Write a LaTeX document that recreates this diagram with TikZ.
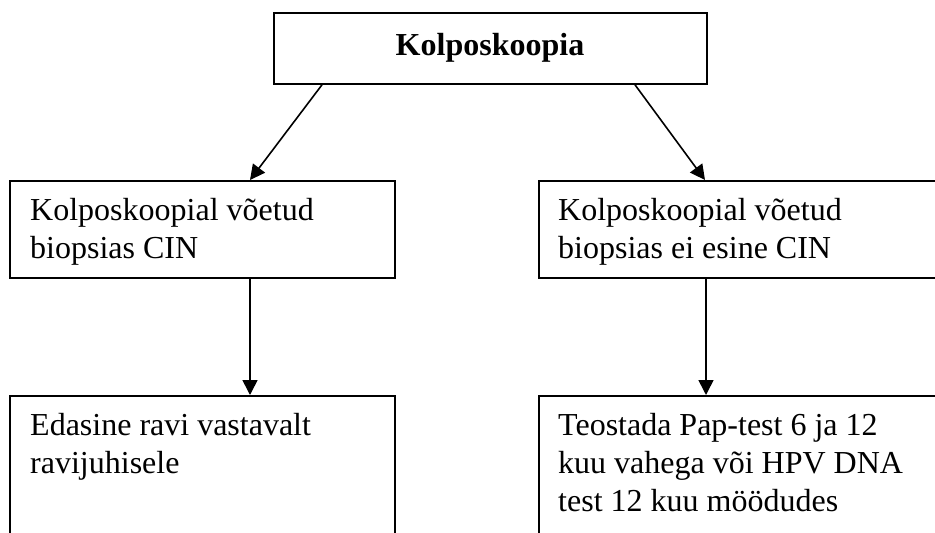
\documentclass[tikz,border=0pt]{standalone}
\usepackage{fontspec}
\setmainfont{Liberation Serif}
\usetikzlibrary{arrows.meta}
\begin{document}
\begin{tikzpicture}[x=1pt,y=-1pt,
  box/.style={draw, line width=1.8pt, inner sep=0pt, anchor=north west},
  arr/.style={line width=1.6pt, -{Triangle[length=15pt,width=15pt]}},
  txt/.style={anchor=base west, inner sep=0pt, align=left, font=\fontsize{32}{38}\selectfont}]
\useasboundingbox (0,0) rectangle (935,533);
\clip (0,0) rectangle (935,533);
\fill[white] (0,0) rectangle (935,533);
% boxes
\node[box, minimum width=433pt, minimum height=71pt] (top) at (273,12) {};
\node[box, minimum width=385pt, minimum height=97pt] (lmid) at (9,180) {};
\node[box, minimum width=407pt, minimum height=97pt] (rmid) at (538,180) {};
\node[box, minimum width=385pt, minimum height=200pt] (lbot) at (9,395) {};
\node[box, minimum width=407pt, minimum height=200pt] (rbot) at (538,395) {};
% texts (anchor = baseline of the last line)
\node[anchor=base, inner sep=0pt, font=\bfseries\fontsize{32}{38}\selectfont] (ttop) at (490,55) {Kolposkoopia};
\node[txt] (tlmid) at (30,258) {Kolposkoopial võetud\\biopsias CIN};
\node[txt] (trmid) at (558,258) {Kolposkoopial võetud\\biopsias ei esine CIN};
\node[txt] (tlbot) at (30,473) {Edasine ravi vastavalt\\ravijuhisele};
\node[txt] (trbot) at (558,511) {Teostada Pap-test 6 ja 12\\kuu vahega või HPV DNA\\test 12 kuu möödudes};
% connectors
\draw[arr] ([xshift=49pt]top.south west) -- ([xshift=241pt]lmid.north west);
\draw[arr] ([xshift=362pt]top.south west) -- ([xshift=167pt]rmid.north west);
\draw[arr] ([xshift=241pt]lmid.south west) -- ([xshift=241pt]lbot.north west);
\draw[arr] ([xshift=168pt]rmid.south west) -- ([xshift=168pt]rbot.north west);
\end{tikzpicture}
\end{document}
